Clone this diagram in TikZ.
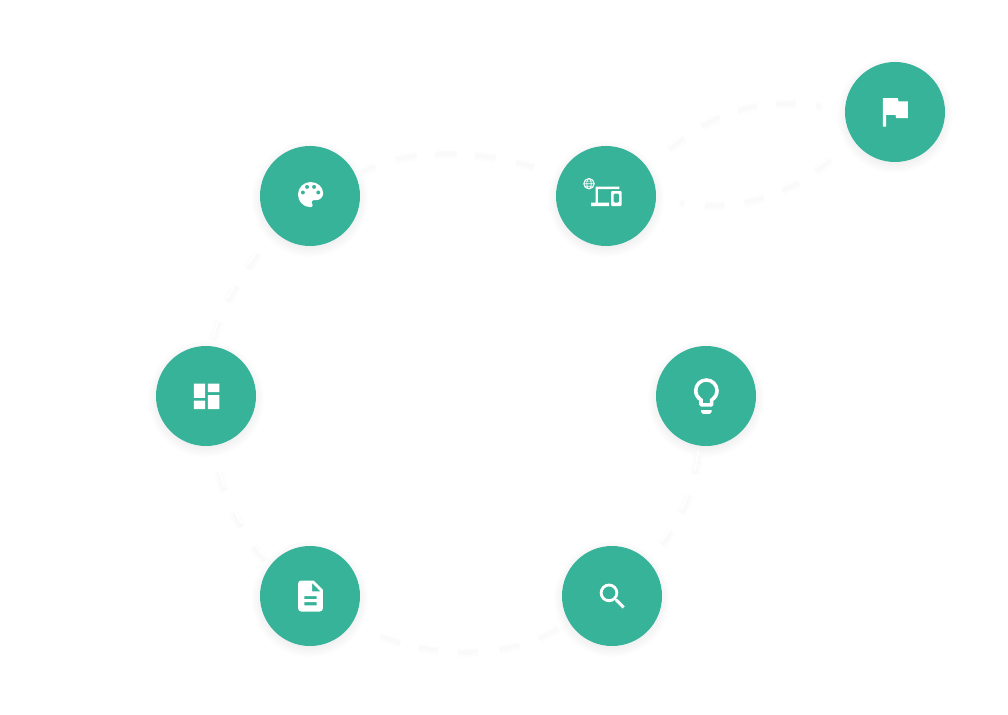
\documentclass[tikz,border=0pt]{standalone}
\pgfdeclarelayer{bg}
\pgfsetlayers{bg,main}
\definecolor{hubteal}{RGB}{54,179,152}
\tikzset{
  x=1pt,y=-1pt,
  hub/.style={circle,fill=hubteal,draw=none,minimum size=100pt,inner sep=0pt,outer sep=0pt},
  icon/.style={fill=white,draw=none,even odd rule},
  hubshadow/.style={fill=black,opacity=.009,draw=none},
  linkshadow/.style={draw=black,opacity=.0055,line cap=butt,transform canvas={yshift=-4pt}},
  linkwhite/.style={draw=white,line width=1.8pt,line cap=butt}
}
\newcommand{\linkpath}[2]{%
  \draw[linkshadow,line width=11pt,dash pattern={#1}] #2;
  \draw[linkshadow,line width=9pt,dash pattern={#1}] #2;
  \draw[linkshadow,line width=7pt,dash pattern={#1}] #2;
  \draw[linkshadow,line width=5pt,dash pattern={#1}] #2;
  \draw[linkshadow,line width=3pt,dash pattern={#1}] #2;
  \draw[linkwhite,dash pattern={#1}] #2;
}
\begin{document}
\begin{tikzpicture}
\useasboundingbox (0,0) rectangle (1008,714);
\begin{pgfonlayer}{bg}
\fill[white] (0,0) rectangle (1008,714);
\end{pgfonlayer}

\node[hub] (palette) at (310,196) {};
\node[hub] (devices) at (606,196) {};
\node[hub] (flag) at (895,112) {};
\node[hub] (dashboard) at (206,396) {};
\node[hub] (bulb) at (706,396) {};
\node[hub] (document) at (310,596) {};
\node[hub] (search) at (612,596) {};

\begin{pgfonlayer}{bg}
\foreach \n in {palette,devices,flag,dashboard,bulb,document,search}{
  \foreach \r in {49,50.5,52,53.5,55,56.5,58}{
    \fill[hubshadow] ([yshift=-3pt]\n.center) circle[radius=\r pt];
  }
}
\linkpath{on 0pt off 8pt on 16pt off 21pt on 21.6pt off 18pt on 22pt off 18pt on 21.4pt off 20.6pt on 19pt off 100pt}
  {(palette.27) .. controls (395,142) and (492,142) .. (devices.153)}
\linkpath{on 0pt off 24pt on 19pt off 20pt on 19pt off 21pt on 20pt off 100pt}
  {(palette.225) .. controls (240,268) and (213.6,318) .. (dashboard.83)}
\linkpath{on 0pt off 23pt on 20pt off 23pt on 17pt off 23pt on 19pt off 100pt}
  {(dashboard.279) .. controls (218,486) and (249,546) .. (document.139)}
\linkpath{on 0pt off 29pt on 21pt off 19pt on 20pt off 20pt on 20pt off 21pt on 21pt off 20pt on 22pt off 100pt}
  {(document.333) .. controls (420,658) and (515.5,658) .. (search.206)}
\linkpath{on 0pt off 24pt on 17pt off 20pt on 20.6pt off 21pt on 20pt off 100pt}
  {(search.47.7) .. controls (672,530) and (692,503) .. (bulb.262.6)}
\linkpath{on 0pt off 31pt on 19pt off 21pt on 20.6pt off 19pt on 20pt off 19pt on 20pt off 20pt on 6pt off 100pt}
  {(devices.35.5) .. controls (692,118) and (757,81) .. (flag.176)}
\linkpath{on 0pt off 28pt on 19pt off 20pt on 19pt off 19.6pt on 20pt off 20pt on 20pt off 20pt on 5pt off 100pt}
  {(flag.210.8) .. controls (805,182) and (751,216) .. (devices.1.6)}
\end{pgfonlayer}

% palette icon
\begin{scope}[shift={(palette.center)},x=1.4pt,y=-1.4pt,shift={(-11.6,-13)}]
\fill[icon] (12,3) .. controls (7.03,3) and (3,7.03) .. (3,12) .. controls (3,16.97) and (7.03,21) .. (12,21)
 .. controls (12.83,21) and (13.5,20.33) .. (13.5,19.5) .. controls (13.5,19.11) and (13.35,18.76) .. (13.11,18.49)
 .. controls (12.88,18.23) and (12.73,17.88) .. (12.73,17.5) .. controls (12.73,16.67) and (13.4,16) .. (14.23,16)
 -- (16,16) .. controls (18.76,16) and (21,13.76) .. (21,11) .. controls (21,6.58) and (16.97,3) .. (12,3) -- cycle
 (6.5,10.5) circle[radius=1.5] (9.5,6.5) circle[radius=1.5] (14.5,6.5) circle[radius=1.5] (17.5,10.5) circle[radius=1.5];
\end{scope}

% devices icon with globe (pixel coordinates inside the disc)
\begin{scope}[shift={(devices.center)},shift={(-50,-50)}]
\fill[icon] (39.5,40.5) -- (63.3,40.5) -- (63.3,43) -- (41.8,43) -- (41.8,56.7) -- (53,56.7) -- (53,60) -- (35,60) -- (35,56.7) -- (39.5,56.7) -- cycle;
\fill[icon,rounded corners=1pt] (55,45) rectangle (65.7,60) (57.7,47.7) rectangle (63,56.7);
\draw[white,line width=1pt] (33,37.7) circle[radius=5.2];
\draw[white,line width=.7pt] (33,37.7) ellipse[x radius=2.3,y radius=5.2] (27.8,37.7) -- (38.2,37.7) (28.6,35.1) -- (37.4,35.1) (28.6,40.3) -- (37.4,40.3);
\end{scope}

% flag icon
\begin{scope}[shift={(flag.center)},x=1.67pt,y=-1.67pt,shift={(-12.3,-12.3)}]
\fill[icon] (14.4,6) -- (14,4) -- (5,4) -- (5,21) -- (7,21) -- (7,14) -- (12.6,14) -- (13,16) -- (20,16) -- (20,6) -- cycle;
\end{scope}

% dashboard icon
\begin{scope}[shift={(dashboard.center)},x=1.41pt,y=-1.41pt,shift={(-11.6,-11.7)}]
\fill[icon] (3,3) rectangle (11,13) (3,15) rectangle (11,21) (13,11) rectangle (21,21) (13,3) rectangle (21,9);
\end{scope}

% lightbulb icon
\begin{scope}[shift={(bulb.center)},x=1.78pt,y=-1.78pt,shift={(-11.8,-12)}]
\fill[icon] (12,2) .. controls (8.14,2) and (5,5.14) .. (5,9) .. controls (5,11.38) and (6.19,13.47) .. (8,14.74)
 -- (8,17) .. controls (8,17.55) and (8.45,18) .. (9,18) -- (15,18) .. controls (15.55,18) and (16,17.55) .. (16,17)
 -- (16,14.74) .. controls (17.81,13.47) and (19,11.38) .. (19,9) .. controls (19,5.14) and (15.86,2) .. (12,2) -- cycle
 (14.85,13.1) -- (14,13.7) -- (14,16) -- (10,16) -- (10,13.7) -- (9.15,13.1)
 .. controls (7.8,12.16) and (7,10.63) .. (7,9) .. controls (7,6.24) and (9.24,4) .. (12,4)
 .. controls (14.76,4) and (17,6.24) .. (17,9) .. controls (17,10.63) and (16.2,12.16) .. (14.85,13.1) -- cycle;
\fill[icon] (9,20) -- (15,20) -- (15,21) .. controls (15,21.55) and (14.55,22) .. (14,22) -- (10,22) .. controls (9.45,22) and (9,21.55) .. (9,21) -- cycle;
\end{scope}

% document icon
\begin{scope}[shift={(document.center)},x=1.55pt,y=-1.55pt,shift={(-11.7,-12)}]
\fill[icon] (14,2) -- (6,2) .. controls (4.9,2) and (4.01,2.9) .. (4.01,4) -- (4,20) .. controls (4,21.1) and (4.89,22) .. (5.99,22)
 -- (18,22) .. controls (19.1,22) and (20,21.1) .. (20,20) -- (20,8) -- cycle
 (16,18) -- (8,18) -- (8,16) -- (16,16) -- cycle
 (16,14) -- (8,14) -- (8,12) -- (16,12) -- cycle
 (13,9) -- (13,3.5) -- (18.5,9) -- cycle;
\end{scope}

% search icon
\begin{scope}[shift={(search.center)},x=1.43pt,y=-1.43pt,shift={(-11.6,-11.7)}]
\fill[icon] (9.5,9.5) circle[radius=6.5] (9.5,9.5) circle[radius=4.5];
\fill[icon] (13.73,14.43) -- (14.43,13.73) -- (15.5,14) -- (20.49,19) -- (19,20.49) -- (14,15.5) -- cycle;
\end{scope}
\end{tikzpicture}
\end{document}
